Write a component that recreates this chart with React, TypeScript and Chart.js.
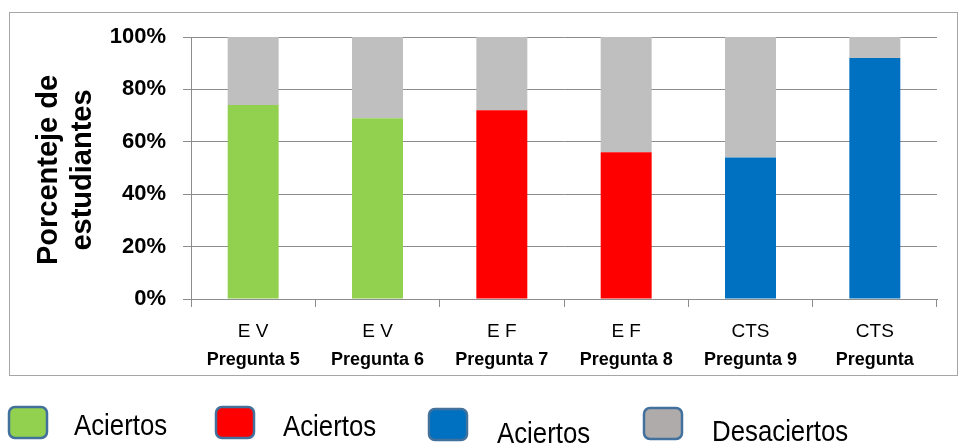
import React, { useEffect, useRef } from "react";
import { Chart, registerables } from "chart.js";

Chart.register(...registerables);

// Preguntas: área temática + número
const areas = ["E V", "E V", "E F", "E F", "CTS", "CTS"];
const preguntas = ["Pregunta 5", "Pregunta 6", "Pregunta 7", "Pregunta 8", "Pregunta 9", "Pregunta"];

// Porcentaje de estudiantes
const aciertos = [74, 69, 72, 56, 54, 92];
const desaciertos = [26, 31, 28, 44, 46, 8];

const yTicks = [0, 20, 40, 60, 80, 100];

const VERDE = "#92d050";
const ROJO = "#ff0000";
const AZUL = "#0070c0";
const GRIS = "#bfbfbf";
const coloresAciertos = [VERDE, VERDE, ROJO, ROJO, AZUL, AZUL];

const leyenda = [
  { texto: "Aciertos", color: VERDE, box: [8, 406], base: [74, 435] },
  { texto: "Aciertos", color: ROJO, box: [215, 406], base: [283, 436] },
  { texto: "Aciertos", color: AZUL, box: [428, 408], base: [497, 443] },
  { texto: "Desaciertos", color: "#afabab", box: [643, 407], base: [712, 441] },
];

const decoraciones = {
  id: "decoraciones",
  beforeDraw(chart: any) {
    const ctx = chart.ctx;
    ctx.save();
    ctx.fillStyle = "#ffffff";
    ctx.fillRect(0, 0, chart.width, chart.height);
    // marco del gráfico
    ctx.strokeStyle = "#a6a6a6";
    ctx.lineWidth = 1;
    ctx.strokeRect(9.5, 12.5, 948, 363);
    ctx.restore();
  },
  afterDraw(chart: any) {
    const ctx = chart.ctx;
    const x = chart.scales.x;
    ctx.save();
    ctx.fillStyle = "#000000";
    ctx.textAlign = "center";
    ctx.textBaseline = "alphabetic";
    // etiquetas del eje X en dos líneas
    areas.forEach((a, i) => {
      const px = x.getPixelForValue(i);
      ctx.font = "19px 'Liberation Sans', Arial, sans-serif";
      ctx.fillText(a, px, 337);
      ctx.font = "bold 18px 'Liberation Sans', Arial, sans-serif";
      ctx.fillText(preguntas[i], px, 365);
    });
    // título del eje Y
    ctx.font = "bold 29px 'Liberation Sans', Arial, sans-serif";
    const cy = 170;
    [["Porcenteje de", 57], ["estudiantes", 91]].forEach(([t, bx]) => {
      ctx.save();
      ctx.translate(bx as number, cy);
      ctx.rotate(-Math.PI / 2);
      ctx.fillText(t as string, 0, 0);
      ctx.restore();
    });
    // leyenda
    leyenda.forEach((l) => {
      ctx.beginPath();
      ctx.roundRect(l.box[0] + 1, l.box[1] + 1, 38, 31, 6);
      ctx.fillStyle = l.color;
      ctx.fill();
      ctx.lineWidth = 2.5;
      ctx.strokeStyle = "#41719c";
      ctx.stroke();
      ctx.save();
      ctx.fillStyle = "#000000";
      ctx.textAlign = "left";
      ctx.font = "30px 'Liberation Sans', Arial, sans-serif";
      ctx.translate(l.base[0], l.base[1]);
      ctx.scale(0.86, 1);
      ctx.fillText(l.texto, 0, 0);
      ctx.restore();
    });
    ctx.restore();
  },
};

export default function App() {
  const ref = useRef<HTMLCanvasElement>(null);

  useEffect(() => {
    if (!ref.current) return;
    const chart = new Chart(ref.current, {
      type: "bar",
      data: {
        labels: preguntas,
        datasets: [
          {
            label: "Aciertos",
            data: aciertos,
            backgroundColor: coloresAciertos,
            barPercentage: 0.41,
            categoryPercentage: 1,
          },
          {
            label: "Desaciertos",
            data: desaciertos,
            backgroundColor: GRIS,
            barPercentage: 0.41,
            categoryPercentage: 1,
          },
        ],
      },
      options: {
        animation: false,
        responsive: false,
        layout: { padding: { top: 37, right: 25, left: 0, bottom: 0 } },
        plugins: { legend: { display: false }, tooltip: { enabled: false } },
        scales: {
          x: {
            stacked: true,
            afterFit: (s: any) => {
              s.height = 145;
            },
            grid: {
              offset: true,
              drawOnChartArea: false,
              tickLength: 8,
              color: "#8c8c8c",
            },
            border: { color: "#8c8c8c" },
            ticks: { display: false },
          },
          y: {
            stacked: true,
            min: 0,
            max: 100,
            afterFit: (s: any) => {
              s.width = 191;
            },
            afterBuildTicks: (s: any) => {
              s.ticks = yTicks.map((v) => ({ value: v }));
            },
            grid: { color: "#8c8c8c", tickLength: 8 },
            border: { color: "#8c8c8c" },
            ticks: {
              padding: 17,
              color: "#000000",
              font: { family: "'Liberation Sans', Arial, sans-serif", size: 22, weight: "bold" },
              callback: (v: any) => v + "%",
            },
          },
        },
      },
      plugins: [decoraciones],
    });
    return () => chart.destroy();
  }, []);

  return (
    <canvas
      ref={ref}
      width={962}
      height={444}
      style={{ position: "fixed", left: 0, top: 0, width: 962, height: 444 }}
    />
  );
}
